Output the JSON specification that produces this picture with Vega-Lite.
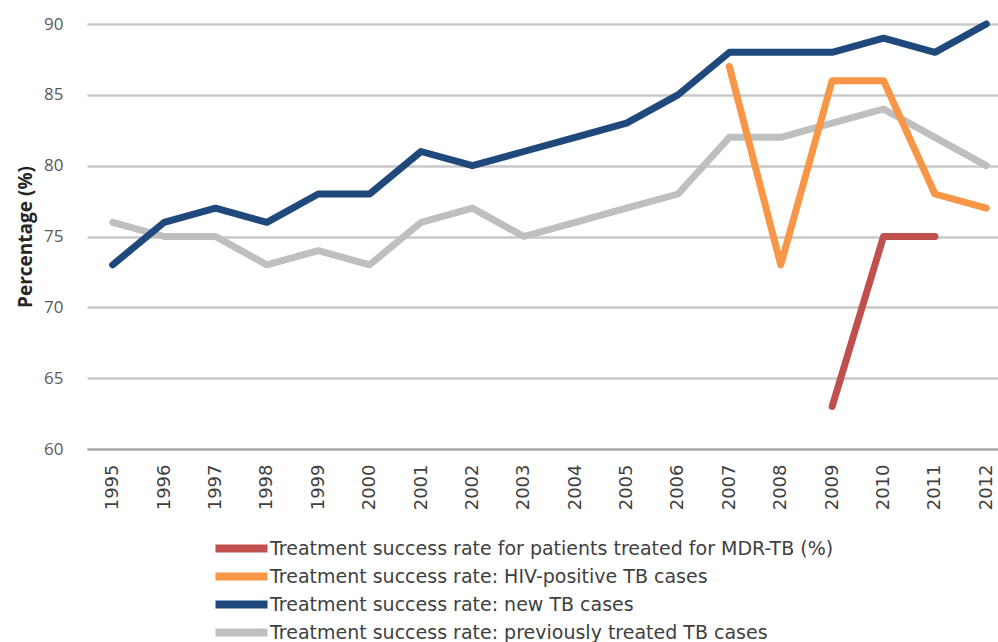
{
  "$schema": "https://vega.github.io/schema/vega-lite/v6.json",
  "autosize": "none",
  "padding": {"left": 87, "top": 24, "right": 0, "bottom": 193},
  "width": 925,
  "height": 425,
  "background": "white",
  "config": {"view": {"stroke": null}},
  "data": {"values": [
    {"year": "1995", "series": "Treatment success rate: previously treated TB cases", "value": 76},
    {"year": "1996", "series": "Treatment success rate: previously treated TB cases", "value": 75},
    {"year": "1997", "series": "Treatment success rate: previously treated TB cases", "value": 75},
    {"year": "1998", "series": "Treatment success rate: previously treated TB cases", "value": 73},
    {"year": "1999", "series": "Treatment success rate: previously treated TB cases", "value": 74},
    {"year": "2000", "series": "Treatment success rate: previously treated TB cases", "value": 73},
    {"year": "2001", "series": "Treatment success rate: previously treated TB cases", "value": 76},
    {"year": "2002", "series": "Treatment success rate: previously treated TB cases", "value": 77},
    {"year": "2003", "series": "Treatment success rate: previously treated TB cases", "value": 75},
    {"year": "2004", "series": "Treatment success rate: previously treated TB cases", "value": 76},
    {"year": "2005", "series": "Treatment success rate: previously treated TB cases", "value": 77},
    {"year": "2006", "series": "Treatment success rate: previously treated TB cases", "value": 78},
    {"year": "2007", "series": "Treatment success rate: previously treated TB cases", "value": 82},
    {"year": "2008", "series": "Treatment success rate: previously treated TB cases", "value": 82},
    {"year": "2009", "series": "Treatment success rate: previously treated TB cases", "value": 83},
    {"year": "2010", "series": "Treatment success rate: previously treated TB cases", "value": 84},
    {"year": "2011", "series": "Treatment success rate: previously treated TB cases", "value": 82},
    {"year": "2012", "series": "Treatment success rate: previously treated TB cases", "value": 80},
    {"year": "1995", "series": "Treatment success rate: new TB cases", "value": 73},
    {"year": "1996", "series": "Treatment success rate: new TB cases", "value": 76},
    {"year": "1997", "series": "Treatment success rate: new TB cases", "value": 77},
    {"year": "1998", "series": "Treatment success rate: new TB cases", "value": 76},
    {"year": "1999", "series": "Treatment success rate: new TB cases", "value": 78},
    {"year": "2000", "series": "Treatment success rate: new TB cases", "value": 78},
    {"year": "2001", "series": "Treatment success rate: new TB cases", "value": 81},
    {"year": "2002", "series": "Treatment success rate: new TB cases", "value": 80},
    {"year": "2003", "series": "Treatment success rate: new TB cases", "value": 81},
    {"year": "2004", "series": "Treatment success rate: new TB cases", "value": 82},
    {"year": "2005", "series": "Treatment success rate: new TB cases", "value": 83},
    {"year": "2006", "series": "Treatment success rate: new TB cases", "value": 85},
    {"year": "2007", "series": "Treatment success rate: new TB cases", "value": 88},
    {"year": "2008", "series": "Treatment success rate: new TB cases", "value": 88},
    {"year": "2009", "series": "Treatment success rate: new TB cases", "value": 88},
    {"year": "2010", "series": "Treatment success rate: new TB cases", "value": 89},
    {"year": "2011", "series": "Treatment success rate: new TB cases", "value": 88},
    {"year": "2012", "series": "Treatment success rate: new TB cases", "value": 90},
    {"year": "2007", "series": "Treatment success rate: HIV-positive TB cases", "value": 87},
    {"year": "2008", "series": "Treatment success rate: HIV-positive TB cases", "value": 73},
    {"year": "2009", "series": "Treatment success rate: HIV-positive TB cases", "value": 86},
    {"year": "2010", "series": "Treatment success rate: HIV-positive TB cases", "value": 86},
    {"year": "2011", "series": "Treatment success rate: HIV-positive TB cases", "value": 78},
    {"year": "2012", "series": "Treatment success rate: HIV-positive TB cases", "value": 77},
    {"year": "2009", "series": "Treatment success rate for patients treated for MDR-TB (%)", "value": 63},
    {"year": "2010", "series": "Treatment success rate for patients treated for MDR-TB (%)", "value": 75},
    {"year": "2011", "series": "Treatment success rate for patients treated for MDR-TB (%)", "value": 75}
  ]},
  "mark": {"type": "line", "strokeWidth": 7, "strokeCap": "round", "strokeJoin": "round"},
  "encoding": {
    "x": {
      "field": "year", "type": "ordinal",
      "scale": {"type": "point", "padding": 0.5},
      "axis": {
        "title": null, "labelAngle": -90, "labelAlign": "right", "labelBaseline": "middle",
        "labelFont": "DejaVu Sans", "labelFontSize": 18, "labelColor": "#404040",
        "labelPadding": 15, "ticks": false, "grid": false,
        "domainColor": "#A6A6A6", "domainWidth": 2
      }
    },
    "y": {
      "field": "value", "type": "quantitative",
      "scale": {"domain": [60, 90], "nice": false, "zero": false},
      "axis": {
        "values": [60, 65, 70, 75, 80, 85, 90],
        "title": "Percentage (%)", "titleFont": "Open Sans", "titleFontSize": 19, "titleFontWeight": "bold",
        "titleColor": "#262626", "titlePadding": 8,
        "labelFont": "Open Sans", "labelFontSize": 17, "labelColor": "#595959", "labelPadding": 24,
        "ticks": false, "domain": false,
        "gridColor": "#C8C8C8", "gridWidth": 2.5
      }
    },
    "color": {
      "field": "series", "type": "nominal",
      "scale": {
        "domain": [
          "Treatment success rate for patients treated for MDR-TB (%)",
          "Treatment success rate: HIV-positive TB cases",
          "Treatment success rate: new TB cases",
          "Treatment success rate: previously treated TB cases"
        ],
        "range": ["#C0504D", "#F79646", "#1F497D", "#BFBFBF"]
      },
      "legend": {
        "orient": "none", "legendX": 145, "legendY": 515, "title": null,
        "symbolType": "M-5.2,0H5.2", "symbolSize": 100, "symbolStrokeWidth": 8,
        "labelFont": "DejaVu Sans", "labelFontSize": 19, "labelColor": "#404040",
        "labelOffset": 19, "rowPadding": -5, "labelLimit": 800
      }
    }
  }
}
